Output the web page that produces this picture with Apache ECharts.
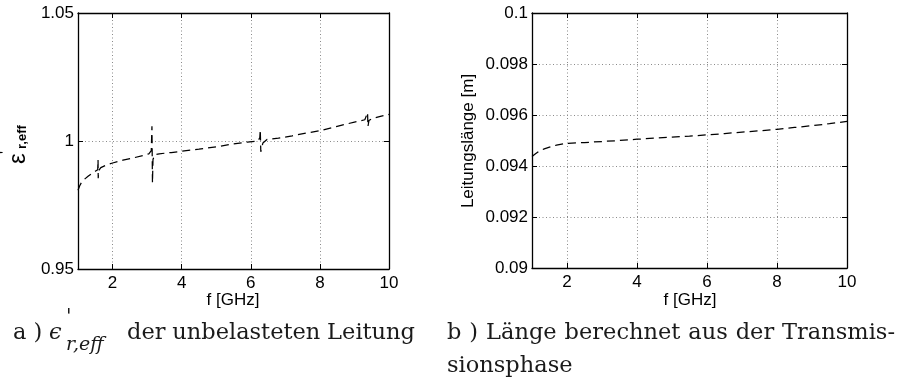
<!DOCTYPE html>
<html><head><meta charset="utf-8">
<script src="https://cdn.jsdelivr.net/npm/echarts@6/dist/echarts.min.js"></script>
<style>html,body{margin:0;padding:0;background:#fff}#c{width:903px;height:390px}</style>
</head><body><div id="c"></div>
<script>
// ---------- data ----------
const xTickValues = [2, 4, 6, 8, 10];
const epsF = [1.00, 1.05, 1.10, 1.20, 1.30, 1.40, 1.50, 1.57, 1.58, 1.585, 1.60, 1.66, 1.80, 2.00, 2.30, 2.60, 2.90, 3.05, 3.12, 3.14, 3.155, 3.17, 3.22, 3.35, 3.70, 4.00, 4.50, 5.00, 5.50, 5.90, 6.20, 6.26, 6.275, 6.29, 6.35, 6.47, 6.80, 7.20, 7.60, 8.00, 8.50, 9.00, 9.30, 9.38, 9.39, 9.42, 9.50, 9.75, 10.00];
const epsV = [0.9808, 0.9825, 0.9838, 0.9852, 0.9863, 0.9873, 0.9882, 0.9888, 0.9926, 0.9855, 0.9885, 0.9896, 0.9905, 0.9914, 0.9925, 0.9934, 0.9944, 0.9950, 0.9962, 1.0058, 0.9836, 0.9928, 0.9946, 0.9950, 0.9955, 0.9960, 0.9968, 0.9977, 0.9989, 0.9996, 0.9999, 1.0012, 1.0044, 0.9958, 0.9992, 1.0006, 1.0011, 1.0020, 1.0031, 1.0040, 1.0057, 1.0074, 1.0083, 1.0111, 1.0056, 1.0080, 1.0087, 1.0096, 1.0104];
const lenF = [1.0, 1.1, 1.2, 1.35, 1.5, 1.7, 2.0, 2.5, 3.0, 3.5, 4.0, 4.5, 5.0, 5.5, 6.0, 6.5, 7.0, 7.5, 8.0, 8.5, 9.0, 9.5, 10.0];
const lenV = [0.09437, 0.09448, 0.09458, 0.09467, 0.09474, 0.09482, 0.09489, 0.09492, 0.09496, 0.09500, 0.09505, 0.09509, 0.09513, 0.09517, 0.09522, 0.09527, 0.09533, 0.09538, 0.09544, 0.09551, 0.09558, 0.09566, 0.09575];
const epsRange = [0.95, 1.05], epsStep = 0.05;
const lenRange = [0.09, 0.1], lenStep = 0.002;
const xName = 'f [GHz]';
const lenName = 'Leitungslänge [m]';
const captionA = ['der', 'unbelasteten', 'Leitung'];
const captionB1 = ['b', ')', 'Länge', 'berechnet', 'aus', 'der', 'Transmis-'];
const captionB2 = 'sionsphase';

// ---------- layout helpers ----------
const SANS = '"Liberation Sans", Arial, sans-serif';
const SERIF = '"DejaVu Serif", "Liberation Serif", serif';
const capFS = 22.5;
const mctx = document.createElement('canvas').getContext('2d');
function tw(t, font) { mctx.font = font; return mctx.measureText(t).width; }
function spread(words, x0, x1, font, y) {
  const ws = words.map(w => tw(w, font));
  const gap = (x1 - x0 - ws.reduce((a, b) => a + b, 0)) / (words.length - 1);
  let x = x0; const out = [];
  words.forEach((w, i) => {
    out.push({ type: 'text', x: x, y: y, style: { text: w, font: font, fill: '#1a1a1a', align: 'left', verticalAlign: 'middle' } });
    x += ws[i] + gap;
  });
  return out;
}
const capFont = capFS + 'px ' + SERIF;
const mid = b => b - 0.33 * capFS;
const labFont = '17px ' + SANS;

const boxLine = { show: true, onZero: false, lineStyle: { color: '#000', width: 1.3 } };
const gridSplit = { show: true, lineStyle: { color: '#8a8a8a', width: 1, type: [1, 2.5] } };
function xAxes(gi) {
  const base = { type: 'value', gridIndex: gi, min: 1, max: 10, axisLine: boxLine };
  return [
    Object.assign({}, base, { position: 'bottom',
      axisTick: { show: true, inside: true, length: 5, customValues: xTickValues, lineStyle: { color: '#000' } },
      axisLabel: { customValues: xTickValues, color: '#000', fontSize: 17, fontFamily: SANS, margin: 6 },
      splitLine: gridSplit }),
    Object.assign({}, base, { position: 'top',
      axisTick: { show: true, inside: true, length: 5, customValues: xTickValues, lineStyle: { color: '#000' } },
      axisLabel: { show: false }, splitLine: { show: false } })
  ];
}
function yAxes(gi, range, step) {
  const base = { type: 'value', gridIndex: gi, min: range[0], max: range[1], interval: step, axisLine: boxLine };
  return [
    Object.assign({}, base, { position: 'left',
      axisTick: { show: true, inside: true, length: 5, lineStyle: { color: '#000' } },
      axisLabel: { color: '#000', fontSize: 17, fontFamily: SANS, margin: 4 },
      splitLine: gridSplit }),
    Object.assign({}, base, { position: 'right',
      axisTick: { show: true, inside: true, length: 5, lineStyle: { color: '#000' } },
      axisLabel: { show: false }, splitLine: { show: false } })
  ];
}
const lineStyle = { color: '#000', width: 1.25, type: [8, 5] };

const graphics = [
  // x axis names
  { type: 'text', x: 233, y: 300, style: { text: xName, font: labFont, fill: '#000', align: 'center', verticalAlign: 'middle' } },
  { type: 'text', x: 690, y: 300, style: { text: xName, font: labFont, fill: '#000', align: 'center', verticalAlign: 'middle' } },
  // right y name
  { type: 'text', x: 468, y: 141, rotation: Math.PI / 2, style: { text: lenName, font: labFont, fill: '#000', align: 'center', verticalAlign: 'middle' } },
  // left y name: eps'_{r,eff}
  { type: 'group', x: 18, y: 164, rotation: Math.PI / 2, children: [
    { type: 'text', x: 0, y: 0, style: { text: 'ε', font: '24px ' + SANS, fill: '#000', align: 'left', verticalAlign: 'middle' } },
    { type: 'text', x: 15, y: 4, style: { text: 'r,eff', font: 'bold 13px ' + SANS, fill: '#000', align: 'left', verticalAlign: 'middle' } },
    { type: 'text', x: 10, y: -11, style: { text: "'", font: '16px ' + SANS, fill: '#000', align: 'left', verticalAlign: 'middle' } }
  ] },
  // caption a
  { type: 'text', x: 13, y: mid(341), style: { text: 'a )', font: capFont, fill: '#1a1a1a', align: 'left', verticalAlign: 'middle' } },
  { type: 'text', x: 49, y: mid(341), style: { text: 'ϵ', font: 'italic ' + capFont, fill: '#1a1a1a', align: 'left', verticalAlign: 'middle' } },
  { type: 'text', x: 66, y: 318, style: { text: "'", font: '20px ' + SERIF, fill: '#1a1a1a', align: 'left', verticalAlign: 'middle' } },
  { type: 'text', x: 66, y: 351 - 0.33 * 19, style: { text: 'r,eff', font: 'italic 19px ' + SERIF, fill: '#1a1a1a', align: 'left', verticalAlign: 'middle' } }
].concat(spread(captionA, 127, 415, capFont, mid(341)))
 .concat(spread(captionB1, 447, 895, capFont, mid(341)))
 .concat([{ type: 'text', x: 447, y: mid(374), style: { text: captionB2, font: capFont, fill: '#1a1a1a', align: 'left', verticalAlign: 'middle' } }]);

const chart = echarts.init(document.getElementById('c'), null, { renderer: 'canvas' });
chart.setOption({
  animation: false,
  backgroundColor: '#fff',
  grid: [
    { left: 78, top: 13, width: 311, height: 256 },
    { left: 532, top: 13, width: 315, height: 255 }
  ],
  xAxis: xAxes(0).concat(xAxes(1)),
  yAxis: yAxes(0, epsRange, epsStep).concat(yAxes(1, lenRange, lenStep)),
  series: [
    { type: 'line', xAxisIndex: 0, yAxisIndex: 0, data: epsF.map((f, i) => [f, epsV[i]]), showSymbol: false, lineStyle: lineStyle, silent: true },
    { type: 'line', xAxisIndex: 2, yAxisIndex: 2, data: lenF.map((f, i) => [f, lenV[i]]), showSymbol: false, lineStyle: lineStyle, silent: true }
  ],
  graphic: graphics
});
</script></body></html>
